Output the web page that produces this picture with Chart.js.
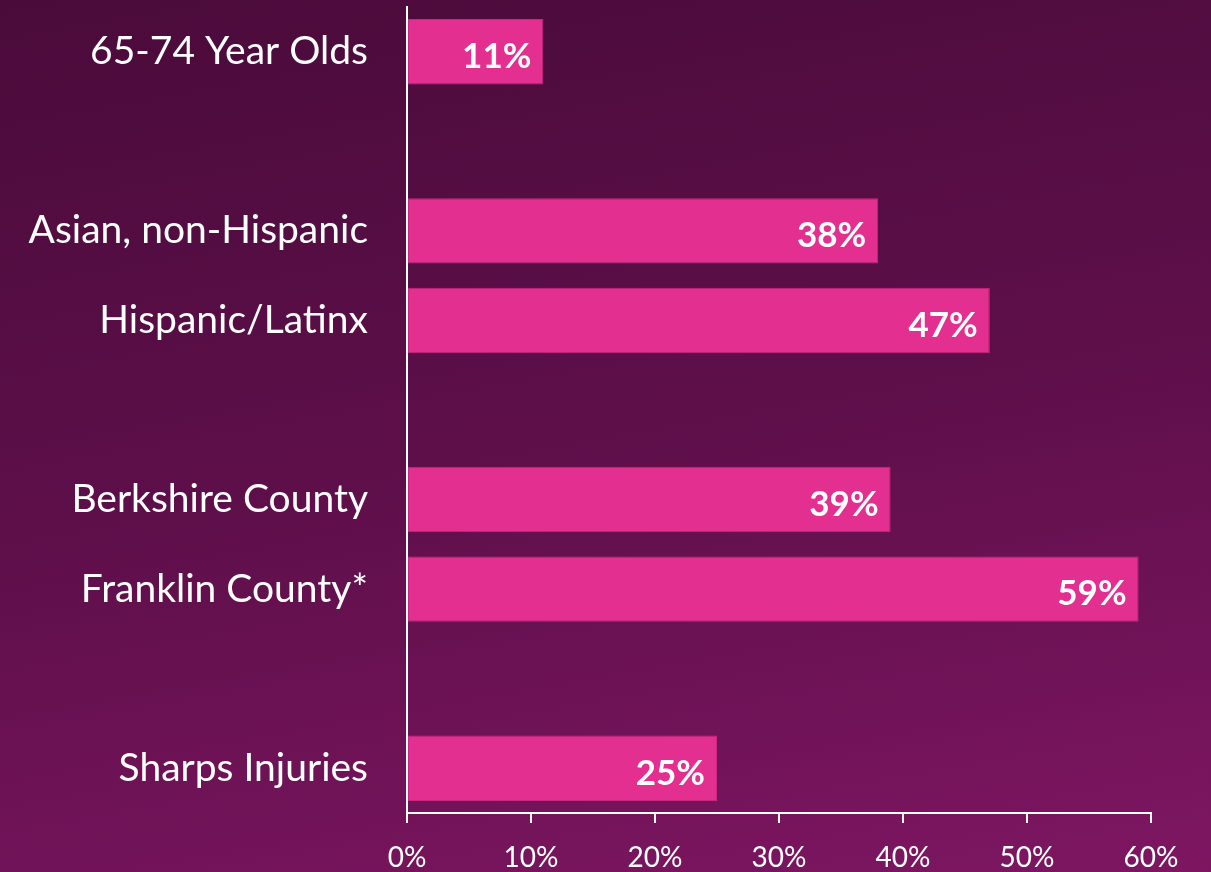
<!DOCTYPE html>
<html>
<head>
<meta charset="utf-8">
<script src="https://cdn.jsdelivr.net/npm/chart.js@4"></script>
<style>
    html, body {
        margin: 0;
        padding: 0;
    }
    body {
        width: 1211px;
        height: 872px;
        overflow: hidden;
        background: linear-gradient(170deg, #4a0b3a 0%, #5e0f4a 50%, #7e1662 100%);
    }
    #wrap {
        position: relative;
        width: 1211px;
        height: 872px;
    }
</style>
</head>
<body>
<div id="wrap"><canvas id="chart"></canvas></div>
<script>
// категории (пустые строки - разрывы между группами)
const categories = [
    "65-74 Year Olds",
    "",
    "Asian, non-Hispanic",
    "Hispanic/Latinx",
    "",
    "Berkshire County",
    "Franklin County*",
    "",
    "Sharps Injuries",
];
const percentValues = [11, null, 38, 47, null, 39, 59, null, 25];
const xTickValues = [0, 10, 20, 30, 40, 50, 60];

const fontName = "Lato, 'Open Sans', sans-serif";

// подписи значений внутри столбцов
const barValueLabels = {
    id: "barValueLabels",
    afterDatasetsDraw(chart) {
        const ctx = chart.ctx;
        const meta = chart.getDatasetMeta(0);
        ctx.save();
        ctx.fillStyle = "#ffffff";
        ctx.font = "bold 35px " + fontName;
        ctx.textAlign = "right";
        ctx.textBaseline = "middle";
        meta.data.forEach((bar, i) => {
            const v = percentValues[i];
            if (v === null) return;
            ctx.fillText(v + "%", bar.x - 12, bar.y + 5);
        });
        ctx.restore();
    },
};

const chartCanvas = document.getElementById("chart");
new Chart(chartCanvas, {
    type: "bar",
    data: {
        labels: categories,
        datasets: [
            {
                data: percentValues,
                backgroundColor: "#e32f8f",
                borderColor: "#c92880",
                borderWidth: 1,
                borderSkipped: false,
                categoryPercentage: 1,
                barPercentage: 0.73,
            },
        ],
    },
    options: {
        indexAxis: "y",
        responsive: true,
        maintainAspectRatio: false,
        animation: false,
        layout: {
            padding: { top: 7, right: 60, left: 0, bottom: 0 },
        },
        plugins: {
            legend: { display: false },
            tooltip: { enabled: false },
        },
        scales: {
            x: {
                min: 0,
                max: 60,
                afterBuildTicks(axis) {
                    axis.ticks = xTickValues.map((v) => ({ value: v }));
                },
                afterFit(axis) {
                    axis.height = 59;
                    axis.paddingLeft = 0;
                    axis.paddingRight = 0;
                },
                grid: {
                    drawOnChartArea: false,
                    drawTicks: true,
                    tickLength: 10,
                    color: "#ffffff",
                    lineWidth: 2,
                },
                border: {
                    display: true,
                    color: "#ffffff",
                    width: 2,
                },
                ticks: {
                    color: "#ffffff",
                    padding: 18,
                    maxRotation: 0,
                    font: { family: fontName, size: 28 },
                    callback: (v) => v + "%",
                },
            },
            y: {
                afterFit(axis) {
                    axis.width = 407;
                    axis.paddingTop = 0;
                    axis.paddingBottom = 0;
                },
                grid: {
                    display: false,
                    drawTicks: false,
                },
                border: {
                    display: true,
                    color: "#ffffff",
                    width: 2,
                },
                ticks: {
                    color: "#ffffff",
                    padding: 39,
                    autoSkip: false,
                    font: { family: fontName, size: 39 },
                },
            },
        },
    },
    plugins: [barValueLabels],
});
</script>
</body>
</html>
